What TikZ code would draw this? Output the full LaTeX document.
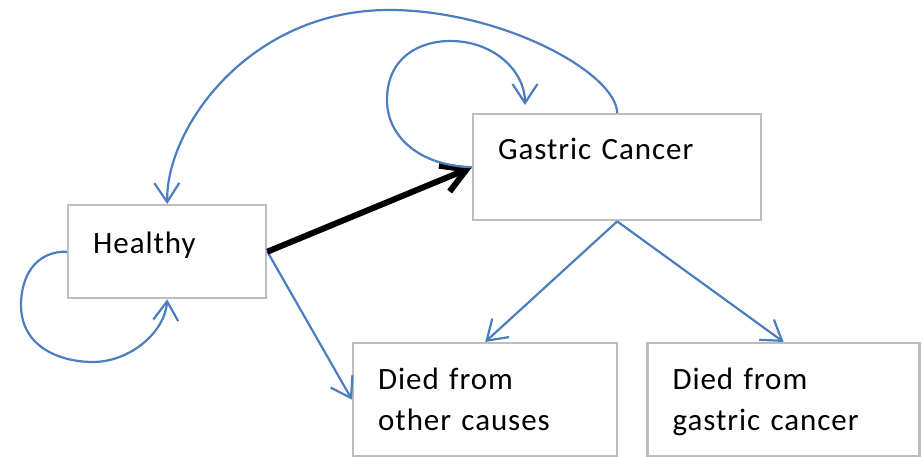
\documentclass[tikz,border=0pt]{standalone}
\usepackage{fontspec}
\setmainfont{Carlito}[LetterSpace=3]
\usepackage{tikz}
\usetikzlibrary{arrows.meta, positioning, calc}
\usepackage{xcolor}
\definecolor{linkblue}{RGB}{74,126,190}
\definecolor{boxgray}{RGB}{190,190,190}

\begin{document}
\begin{tikzpicture}[
    x=1pt, y=1pt,
    box/.style={rectangle, draw=boxgray, line width=2.4pt, anchor=north west,
                align=left, inner xsep=25pt, inner ysep=0pt,
                font=\fontsize{31}{41}\selectfont},
    link/.style={-{Straight Barb[length=19pt, width=25pt]}, draw=linkblue, line width=2.2pt},
    main/.style={-{Straight Barb[length=24pt, width=28pt]}, draw=black, line width=6pt},
]
    \useasboundingbox (0,0) rectangle (922,457);

    \node[box, text width=148pt, text height=48pt, text depth=45pt] (healthy) at (67,253) {Healthy};
    \node[box, text width=238pt, text height=45pt, text depth=61pt] (gc) at (472,344) {Gastric Cancer};
    \node[box, text width=214pt, text height=46pt, text depth=67pt] (other) at (352,115) {Died from\\other causes};
    \node[box, text width=222pt, text height=46pt, text depth=67pt, anchor=west, right=28pt of other] (gcdeath) {Died from\\gastric cancer};

    \coordinate (gcin) at ($(gc.north west)+(53,8)$);

    % transitions out of the two living states
    \draw[link] (healthy.east) -- (other.west);
    \draw[link] (gc.south) -- (other.north);
    \draw[link] (gc.south) -- (gcdeath.north);
    \draw[main] (healthy.east) -- (gc.west);

    % staying in a state
    \draw[link] (healthy.west) .. controls (35,206) and (21,180) .. (21,152)
        .. controls (21,110) and (60,95) .. (93,95)
        .. controls (130,95) and (165,125) .. (healthy.south);
    \draw[link] (gc.west) .. controls (420,291) and (387,320) .. (387,357)
        .. controls (387,400) and (420,416) .. (450,416)
        .. controls (495,416) and (525,385) .. (gcin);

    % back to healthy
    \draw[link] (gc.north) .. controls (616,385) and (500,447) .. (389,447)
        .. controls (250,447) and (166,330) .. (healthy.north);
\end{tikzpicture}
\end{document}
